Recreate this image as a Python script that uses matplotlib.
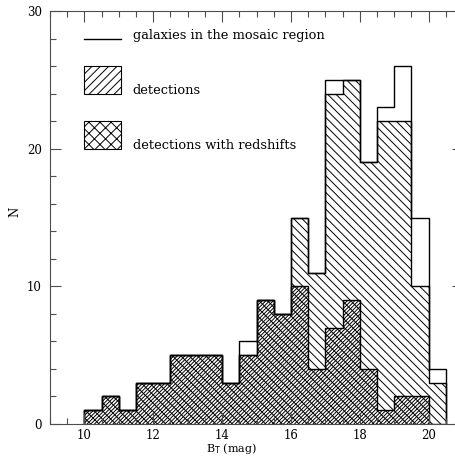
import numpy as np
import matplotlib
matplotlib.use("Agg")
import matplotlib.pyplot as plt
from matplotlib.patches import Rectangle
from matplotlib.ticker import MultipleLocator

# B_T histogram, 0.5 mag bins from 10 to 20.5
edges = np.arange(10.0, 20.51, 0.5)
n_all = [1, 2, 1, 3, 3, 5, 5, 5, 3, 6, 9, 8, 15, 11, 25, 25, 19, 23, 26, 15, 4]
n_det = [1, 2, 1, 3, 3, 5, 5, 5, 3, 5, 9, 8, 15, 11, 24, 25, 19, 22, 22, 10, 3]
n_z = [1, 2, 1, 3, 3, 5, 5, 5, 3, 5, 9, 8, 10, 4, 7, 9, 4, 1, 2, 2, 0]

labels = ["galaxies in the mosaic region", "detections", "detections with redshifts"]

plt.rcParams["font.family"] = ["DejaVu Serif"]
plt.rcParams["hatch.linewidth"] = 0.7

fig = plt.figure(figsize=(4.55, 4.59), dpi=100)
ax = fig.add_axes([50 / 455, 35 / 459, 413 / 455, 413 / 459])

ax.stairs(n_all, edges, fill=False, edgecolor="black", linewidth=1.0)
ax.stairs(n_det, edges, fill=True, facecolor="none", edgecolor="black",
          hatch="\\" * 4, linewidth=1.0)
ax.stairs(n_z, edges, fill=True, facecolor="none", edgecolor="black",
          hatch="/" * 9, linewidth=1.0)

# key, drawn by hand
ax.plot([10.0, 11.05], [28, 28], color="black", lw=1.0)
ax.add_patch(Rectangle((10.0, 24), 1.05, 2, facecolor="none", edgecolor="black",
                       hatch="////", lw=0.8))
ax.add_patch(Rectangle((10.0, 20), 1.05, 2, facecolor="none", edgecolor="black",
                       hatch="xxx", lw=0.8))
for y, s in zip([28, 24, 20], labels):
    ax.text(11.4, y, s, fontsize=9.4, va="baseline", ha="left")

ax.set_xlim(9, 21)
ax.set_ylim(0, 30)
ax.xaxis.set_major_locator(MultipleLocator(2))
ax.xaxis.set_minor_locator(MultipleLocator(0.5))
ax.yaxis.set_major_locator(MultipleLocator(10))
ax.yaxis.set_minor_locator(MultipleLocator(2))
ax.tick_params(which="both", direction="in", top=True, right=True,
               labelsize=8.5, width=0.8, color="0.3")
ax.tick_params(which="major", length=8)
ax.tick_params(which="minor", length=4)
ax.tick_params(axis="y", pad=6)
ax.tick_params(axis="x", pad=3.5)
for sp in ax.spines.values():
    sp.set_linewidth(0.8)
    sp.set_color("0.3")

ax.set_xlabel(r"B$_\mathrm{T}$ (mag)", fontsize=8)
ax.xaxis.set_label_coords(0.44, -0.042)
ax.set_ylabel("N", fontsize=8.5)
ax.yaxis.set_label_coords(-0.07, 0.513)

fig.savefig("out.png", dpi=100)
